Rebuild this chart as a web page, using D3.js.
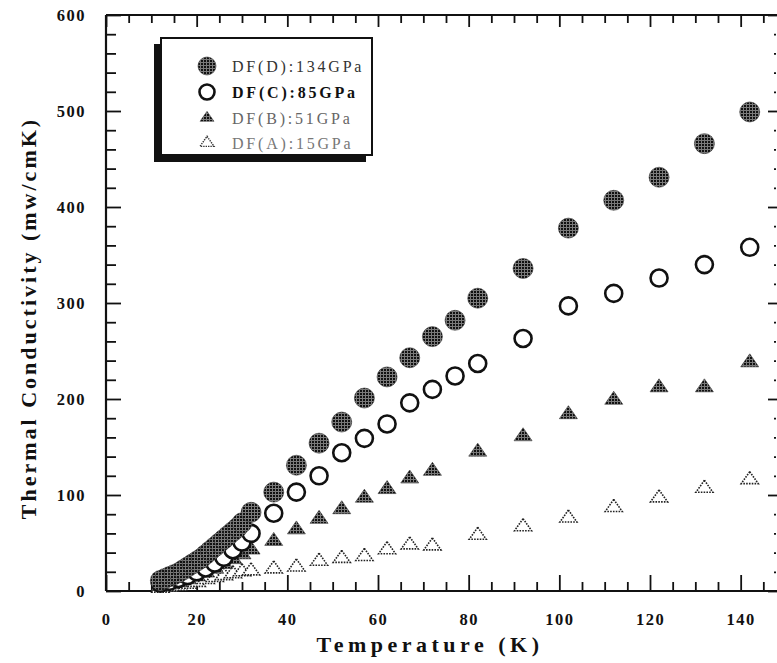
<!DOCTYPE html>
<html>
<head>
<meta charset="utf-8">
<script src="https://cdn.jsdelivr.net/npm/d3@7"></script>
<style>
html,body{margin:0;padding:0;background:#fff;}
svg{display:block;}
</style>
</head>
<body>
<script>
// ---- data ----
const tempD = [12,13,14,15,16,17,18,19,20,21,22,23,24,25,26,27,28,29,30,32,37,42,47,52,57,62,67,72,77,82,92,102,112,122,132,142];
const valD  = [11,13,15,17,19,22,25,28,31,34,38,42,46,50,54,58,62,66,71,82,103,131,154,176,201,223,243,265,282,305,336,378,407,431,466,499];

const tempC = [12,14,16,18,20,22,24,26,28,30,32,37,42,47,52,57,62,67,72,77,82,92,102,112,122,132,142];
const valC  = [8,10,13,16,20,24,29,35,43,51,60,81,103,120,144,159,174,196,210,224,237,263,297,310,326,340,358];

const tempB = [12,14,16,18,20,22,24,26,28,30,32,37,42,47,52,57,62,67,72,82,92,102,112,122,132,142];
const valB  = [5,7,9,12,15,19,23,28,33,38,43,52,64,75,85,97,106,117,125,145,161,184,199,212,212,238];

const tempA = [12,14,16,18,20,22,24,26,28,30,32,37,42,47,52,57,62,67,72,82,92,102,112,122,132,142];
const valA  = [3,4,5,7,9,12,14,16,18,20,21,23,25,31,34,36,43,48,47,58,67,76,87,97,107,116];

const seriesNames = ["DF(D):134GPa","DF(C):85GPa","DF(B):51GPa","DF(A):15GPa"];
const xTickLabels = [0,20,40,60,80,100,120,140];
const yTickLabels = [0,100,200,300,400,500,600];

// ---- layout ----
const W = 777, H = 663;
const svg = d3.select("body").append("svg").attr("width", W).attr("height", H)
  .style("background","#fff");

const defs = svg.append("defs");
const pat = defs.append("pattern").attr("id","dots").attr("patternUnits","userSpaceOnUse")
  .attr("width",3).attr("height",3);
pat.append("rect").attr("width",3).attr("height",3).attr("fill","#7a7a7a");
pat.append("rect").attr("x",0).attr("y",0).attr("width",2).attr("height",2).attr("fill","#111");

const x = d3.scaleLinear().domain([0,150]).range([106, 786]);
const y = d3.scaleLinear().domain([0,600]).range([591, 15]);

const font = "'Liberation Serif','Times New Roman',serif";

// frame lines
const frame = svg.append("g").attr("stroke","#111").attr("stroke-width",2.2).attr("fill","none");
frame.append("line").attr("x1",x(0)).attr("x2",x(0)).attr("y1",y(0)).attr("y2",y(600));
frame.append("line").attr("x1",x(0)).attr("x2",x(150)).attr("y1",y(0)).attr("y2",y(0));
frame.append("line").attr("x1",x(0)).attr("x2",x(150)).attr("y1",y(600)).attr("y2",y(600));
frame.append("line").attr("x1",x(150)).attr("x2",x(150)).attr("y1",y(0)).attr("y2",y(600));

const xMinor = d3.range(0,151,5);
const yMinor = d3.range(0,601,20);

// bottom
const gB = svg.append("g").attr("transform",`translate(0,${y(0)})`)
  .call(d3.axisBottom(x).tickValues(xMinor).tickSize(-9).tickFormat(""));
gB.select(".domain").remove();
gB.selectAll(".tick line").attr("stroke","#111").attr("stroke-width",1.8)
  .attr("y2", d => d % 20 === 0 ? -16 : -9);
const gB2 = svg.append("g").attr("transform",`translate(0,${y(0)+19})`)
  .call(d3.axisBottom(x).tickValues(xTickLabels).tickSize(0).tickFormat(d3.format("d")));
gB2.select(".domain").remove();
gB2.selectAll("text").attr("font-family",font).attr("font-weight","bold").attr("font-size",16.5)
  .attr("fill","#111").attr("dy","0.71em").attr("letter-spacing","1.5px");

// top
const gT = svg.append("g").attr("transform",`translate(0,${y(600)})`)
  .call(d3.axisTop(x).tickValues(xMinor).tickSize(-9).tickFormat(""));
gT.select(".domain").remove();
gT.selectAll(".tick line").attr("stroke","#111").attr("stroke-width",1.8)
  .attr("y2", d => d % 20 === 0 ? 12 : 8);

// left
const gL = svg.append("g").attr("transform",`translate(${x(0)},0)`)
  .call(d3.axisLeft(y).tickValues(yMinor).tickSize(-10).tickFormat(""));
gL.select(".domain").remove();
gL.selectAll(".tick line").attr("stroke","#111").attr("stroke-width",1.8)
  .attr("x2", d => d % 100 === 0 ? 15 : 10);
const gL2 = svg.append("g").attr("transform",`translate(${x(0)-17},0)`)
  .call(d3.axisLeft(y).tickValues(yTickLabels).tickSize(0).tickFormat(d3.format("d")));
gL2.select(".domain").remove();
gL2.selectAll("text").attr("font-family",font).attr("font-weight","bold").attr("font-size",16.5)
  .attr("fill","#111").attr("letter-spacing","1.5px");

// right
const gR = svg.append("g").attr("transform",`translate(${x(150)},0)`)
  .call(d3.axisRight(y).tickValues(yMinor).tickSize(-10).tickFormat(""));
gR.select(".domain").remove();
gR.selectAll(".tick line").attr("stroke","#111").attr("stroke-width",1.8)
  .attr("x2", d => d % 100 === 0 ? -18 : -12)
  .attr("stroke-dasharray", d => d % 100 === 0 ? null : "2,3");

// axis titles
svg.append("text").attr("x",430).attr("y",652).attr("text-anchor","middle")
  .attr("font-family",font).attr("font-weight","bold").attr("font-size",22)
  .attr("letter-spacing","4.5px").attr("fill","#111").text("Temperature (K)");
svg.append("text").attr("transform","translate(36,318) rotate(-90)").attr("text-anchor","middle")
  .attr("font-family",font).attr("font-weight","bold").attr("font-size",22)
  .attr("letter-spacing","3px").attr("fill","#111").text("Thermal Conductivity (mw/cmK)");

// markers
const triPath = (cx, cy, w, h) => `M${cx},${cy-h*2/3}L${cx+w/2},${cy+h/3}L${cx-w/2},${cy+h/3}Z`;

const mk = (t, v) => t.map((d,i)=>({t:d, v:v[i]}));
const dataA = mk(tempA, valA), dataB = mk(tempB, valB), dataC = mk(tempC, valC), dataD = mk(tempD, valD);

const plot = svg.append("g");
// A: open dotted triangles
plot.append("g").selectAll("path").data(dataA).join("path")
  .attr("d", d => triPath(x(d.t), y(d.v), 17, 12))
  .attr("fill","#fff").attr("stroke","#222").attr("stroke-width",1.6).attr("stroke-dasharray","1.6,1.2");
// B: filled triangles
plot.append("g").selectAll("path").data(dataB).join("path")
  .attr("d", d => triPath(x(d.t), y(d.v), 18, 13))
  .attr("fill","url(#dots)").attr("stroke","#333").attr("stroke-width",0.6);
// C: open circles
plot.append("g").selectAll("circle").data(dataC).join("circle")
  .attr("cx", d => x(d.t)).attr("cy", d => y(d.v)).attr("r", 8.5)
  .attr("fill","#fff").attr("stroke","#111").attr("stroke-width",2.6);
// D: filled circles
plot.append("g").selectAll("circle").data(dataD).join("circle")
  .attr("cx", d => x(d.t)).attr("cy", d => y(d.v)).attr("r", 10)
  .attr("fill","url(#dots)").attr("stroke","#333").attr("stroke-width",0.6);

// legend
const lg = svg.append("g");
lg.append("rect").attr("x",154).attr("y",44).attr("width",212).attr("height",118).attr("fill","#111");
lg.append("rect").attr("x",161).attr("y",38).attr("width",211).attr("height",117)
  .attr("fill","#fff").attr("stroke","#111").attr("stroke-width",2);
const rows = [66, 92, 118, 143];
const sx = 207;
lg.append("circle").attr("cx",sx).attr("cy",rows[0]).attr("r",9).attr("fill","url(#dots)").attr("stroke","#333").attr("stroke-width",0.6);
lg.append("circle").attr("cx",sx).attr("cy",rows[1]).attr("r",7.5).attr("fill","#fff").attr("stroke","#111").attr("stroke-width",2.6);
lg.append("path").attr("d",triPath(sx,rows[2],14,10)).attr("fill","url(#dots)").attr("stroke","#333").attr("stroke-width",0.5);
lg.append("path").attr("d",triPath(sx,rows[3],14,10)).attr("fill","#fff").attr("stroke","#333").attr("stroke-width",1.4).attr("stroke-dasharray","1.4,1");
const tcol = ["#333","#111","#666","#777"];
const twt = ["normal","bold","normal","normal"];
lg.selectAll("text.lab").data(seriesNames).join("text").attr("class","lab")
  .attr("x",232).attr("y",(d,i)=>rows[i]).attr("dy","0.35em")
  .attr("font-family",font).attr("font-size",16).attr("letter-spacing","2.8px")
  .attr("font-weight",(d,i)=>twt[i]).attr("fill",(d,i)=>tcol[i]).text(d=>d);
</script>
</body>
</html>
